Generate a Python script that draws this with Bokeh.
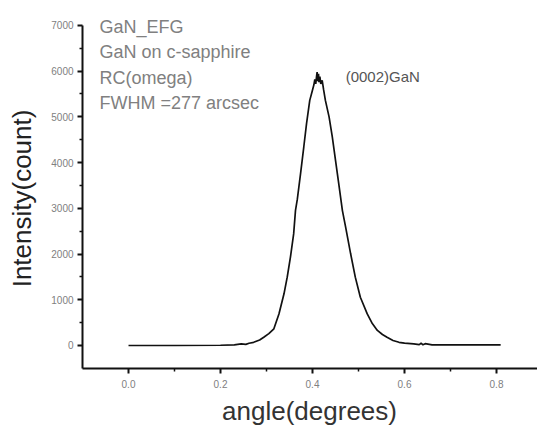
import math
from bokeh.plotting import figure
from bokeh.models import FixedTicker, NumeralTickFormatter, Label, Range1d
from bokeh.embed import file_html
from bokeh.resources import INLINE

# rocking-curve data
angle_deg = [0.000, 0.100, 0.200, 0.230, 0.245, 0.255, 0.262, 0.272, 0.285, 0.294,
             0.305, 0.316, 0.327, 0.338, 0.345, 0.352, 0.359, 0.363, 0.367, 0.374,
             0.381, 0.387, 0.394, 0.399, 0.403, 0.405, 0.407, 0.409, 0.410, 0.411,
             0.413, 0.414, 0.416, 0.418, 0.421, 0.424, 0.428, 0.436, 0.443, 0.450,
             0.457, 0.465, 0.472, 0.483, 0.493, 0.504, 0.519, 0.530, 0.541, 0.552,
             0.562, 0.575, 0.588, 0.600, 0.620, 0.632, 0.636, 0.640, 0.645, 0.660,
             0.700, 0.809]
intensity = [0, 0, 5, 15, 35, 25, 50, 70, 120, 180,
             260, 365, 690, 1130, 1495, 1930, 2440, 2955, 3200, 3760,
             4340, 4850, 5360, 5550, 5700, 5820, 5720, 5900, 5980, 5780,
             5940, 5760, 5880, 5720, 5800, 5600, 5360, 5000, 4560, 4050,
             3540, 2950, 2590, 2000, 1495, 1055, 690, 480, 330, 240,
             180, 110, 70, 50, 35, 20, 50, 15, 40, 15,
             15, 15]

x_ticks = [0.0, 0.2, 0.4, 0.6, 0.8]
x_minor = [0.1, 0.3, 0.5, 0.7]
y_ticks = [0, 1000, 2000, 3000, 4000, 5000, 6000, 7000]
y_minor = [500, 1500, 2500, 3500, 4500, 5500, 6500]

info_lines = ["GaN_EFG", "GaN on c-sapphire", "RC(omega)", "FWHM =277 arcsec"]
peak_label = "(0002)GaN"
x_title = "angle(degrees)"
y_title = "Intensity(count)"

FONT = "Liberation Sans"

p = figure(width=537, height=428, output_backend="svg", toolbar_location=None,
           x_range=Range1d(-0.2783, 0.8891), y_range=Range1d(-1815, 7544),
           min_border=0)
p.outline_line_color = None
p.xgrid.visible = False
p.ygrid.visible = False
p.background_fill_color = "white"
p.border_fill_color = "white"

for ax in (p.xaxis[0], p.yaxis[0]):
    ax.axis_line_width = 2
    ax.axis_line_color = "#111111"
    ax.major_tick_line_width = 2
    ax.major_tick_line_color = "#111111"
    ax.minor_tick_line_width = 1.5
    ax.minor_tick_line_color = "#111111"
    ax.major_tick_out = 5
    ax.major_tick_in = 0
    ax.minor_tick_out = 3
    ax.minor_tick_in = 0
    ax.major_label_text_font = FONT
    ax.major_label_text_font_size = "10px"
    ax.major_label_text_color = "#808080"

p.xaxis[0].ticker = FixedTicker(ticks=x_ticks, minor_ticks=x_minor)
p.xaxis[0].formatter = NumeralTickFormatter(format="0.0")
p.xaxis[0].major_label_standoff = 7
p.xaxis[0].fixed_location = -500
p.xaxis[0].bounds = (-0.1, 0.8891)

p.yaxis[0].ticker = FixedTicker(ticks=y_ticks, minor_ticks=y_minor)
p.yaxis[0].major_label_standoff = 4
p.yaxis[0].fixed_location = -0.1
p.yaxis[0].bounds = (-500, 7000)

p.line(angle_deg, intensity, line_color="#111111", line_width=1.7)

# info text block
info_y = [6958, 6411, 5842, 5295]
for txt, yy in zip(info_lines, info_y):
    p.add_layout(Label(x=-0.063, y=yy, text=txt, text_font=FONT, text_font_size="18px",
                       text_color="#808080", text_baseline="middle", text_align="left"))

p.add_layout(Label(x=0.472, y=5886, text=peak_label, text_font=FONT, text_font_size="15px",
                   text_color="#555555", text_baseline="middle", text_align="left"))

# axis titles
p.add_layout(Label(x=0.3935, y=-1443, text=x_title, text_font=FONT, text_font_size="26px",
                   text_color="#333333", text_baseline="middle", text_align="center"))
p.add_layout(Label(x=-0.2326, y=3215, text=y_title, text_font=FONT, text_font_size="26px",
                   text_color="#222222", text_baseline="middle", text_align="center",
                   angle=math.pi / 2))

open("out.html", "w").write(file_html(p, INLINE))
